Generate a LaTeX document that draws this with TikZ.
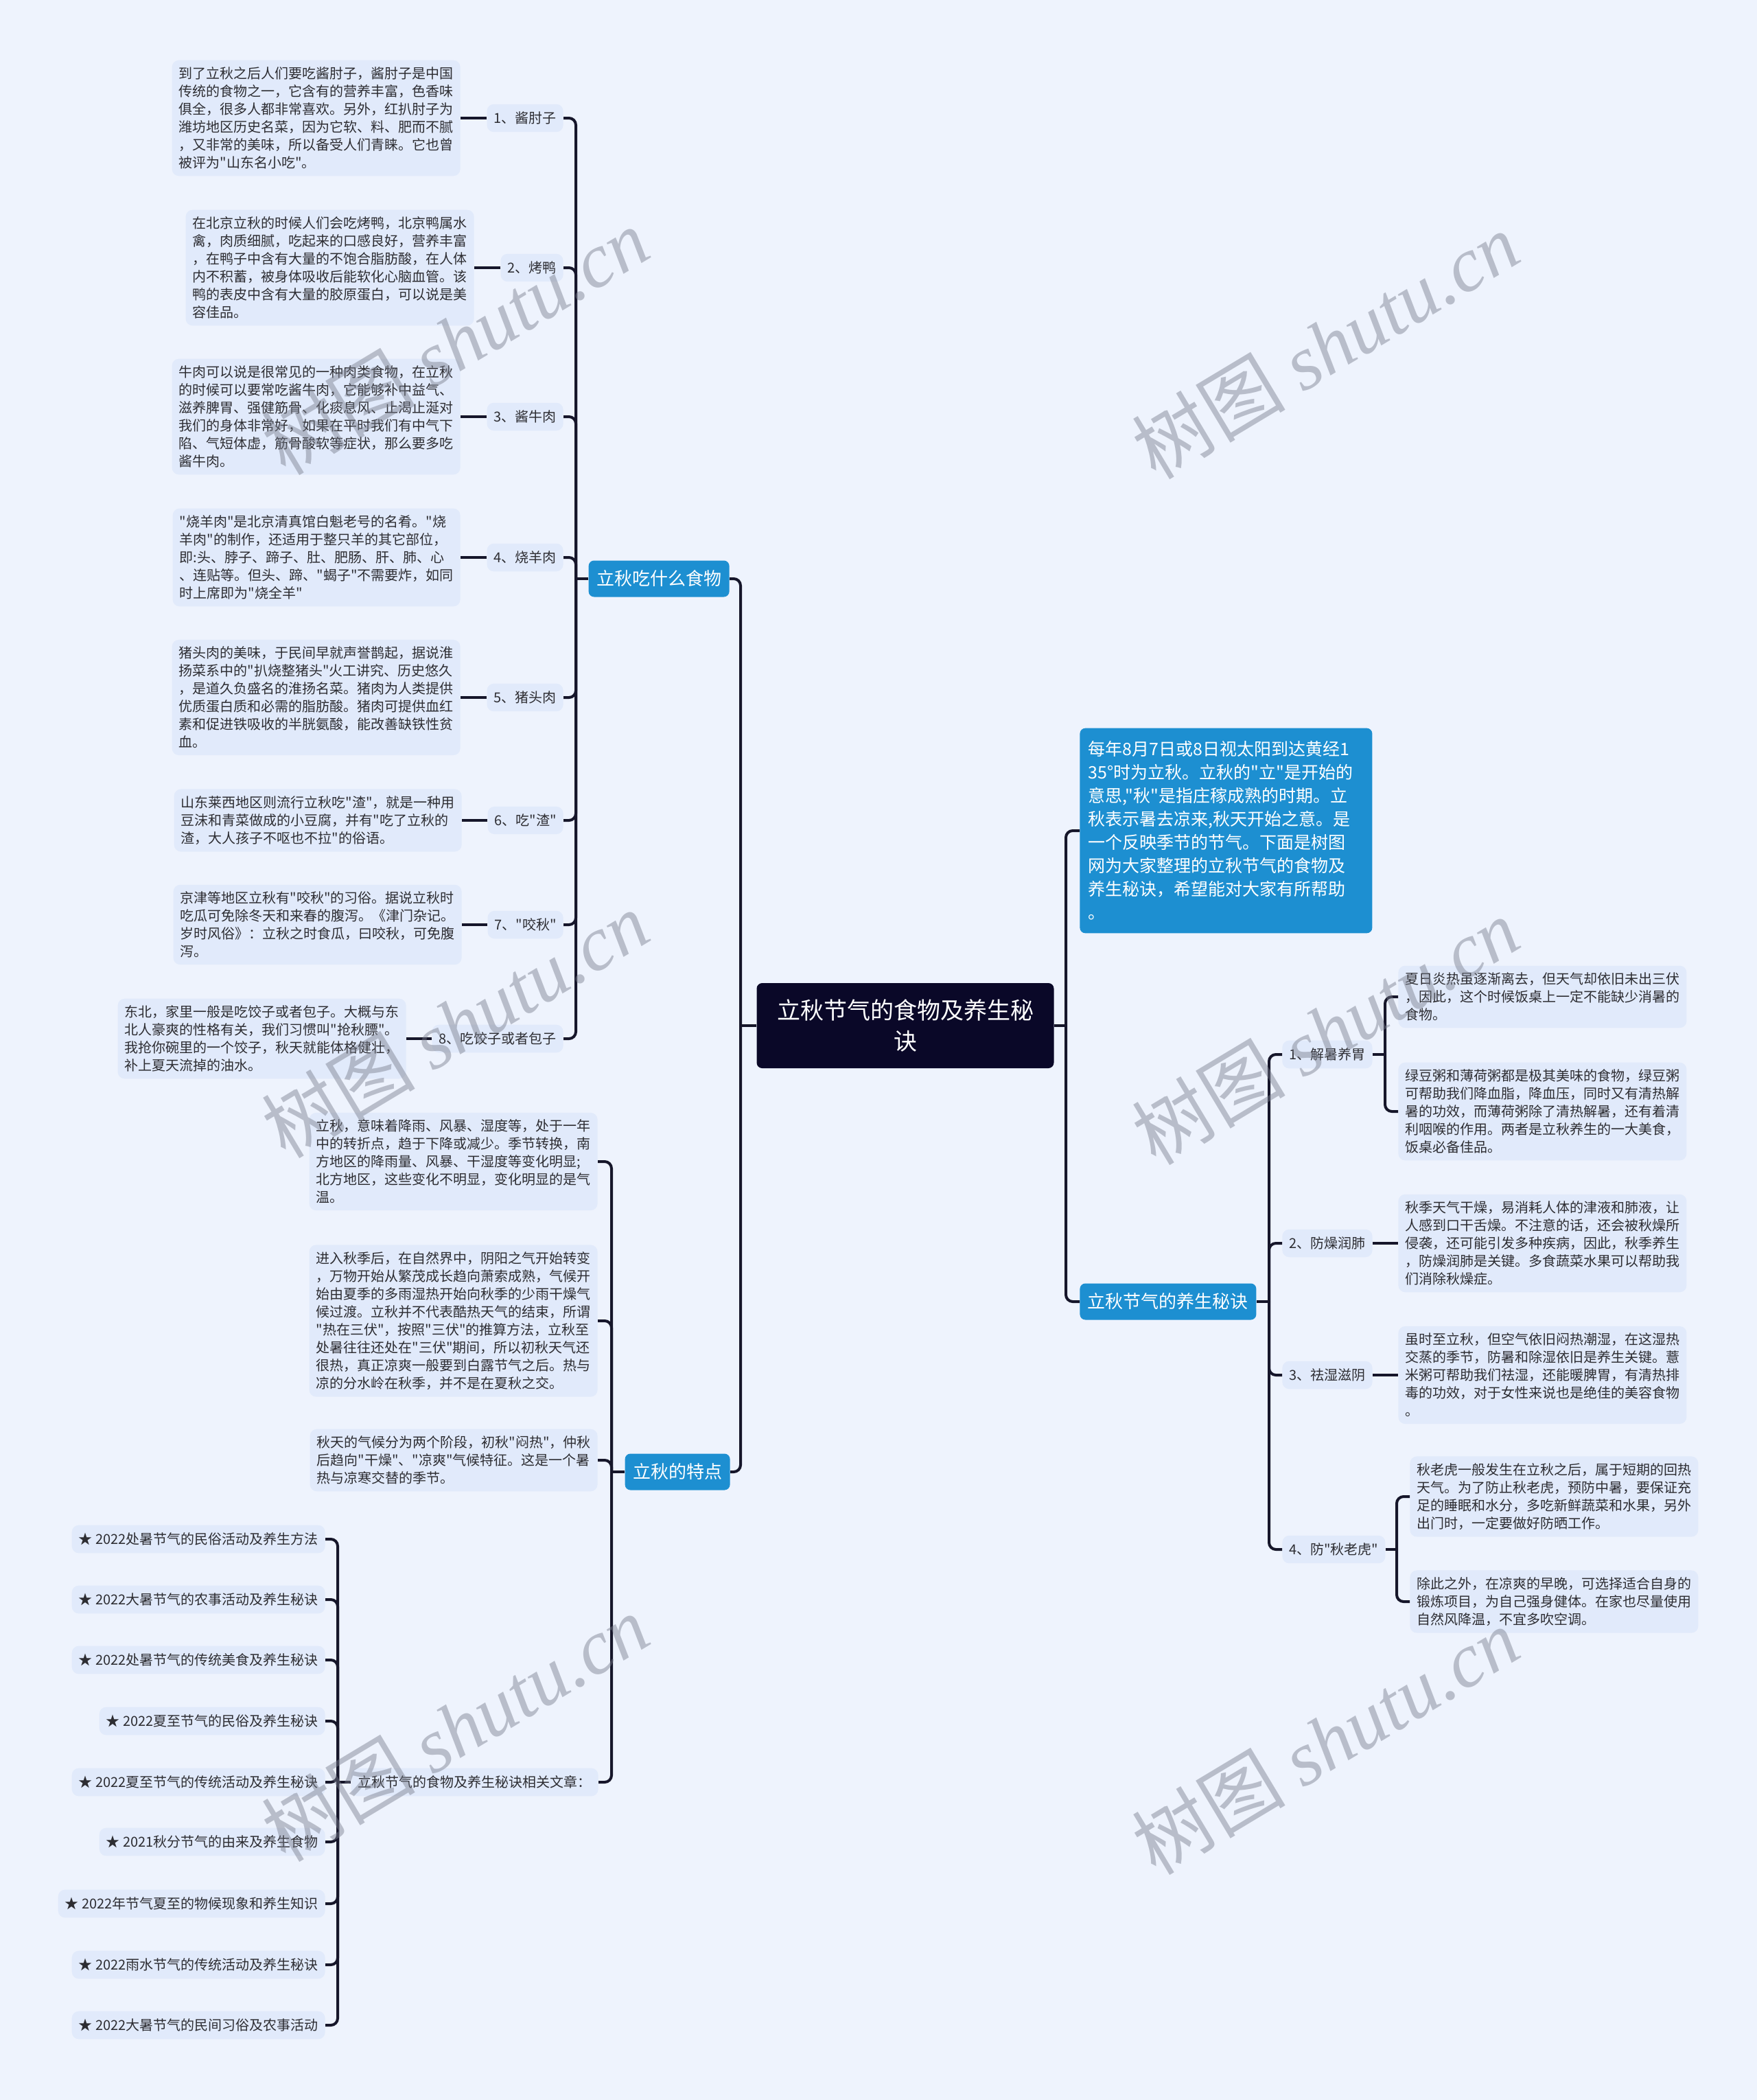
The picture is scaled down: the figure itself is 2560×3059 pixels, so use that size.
\documentclass[tikz,border=0pt]{standalone}
\usepackage{fontspec}
\newfontfamily\cjk{Noto Sans CJK SC}
\newfontfamily\wmfont{Liberation Serif}
\definecolor{bgc}{RGB}{238,243,253}
\definecolor{boxc}{RGB}{225,234,251}
\definecolor{bluec}{RGB}{29,143,209}
\definecolor{rootc}{RGB}{10,8,40}
\definecolor{linec}{RGB}{22,22,42}
\definecolor{txtc}{RGB}{45,45,50}
\definecolor{wmc}{RGB}{120,125,140}

\tikzset{
  conn/.style={draw=linec, line width=2pt, rounded corners=5pt},
  mmdetail/.style={fill=boxc, rounded corners=5pt, inner xsep=5pt, inner ysep=5pt,
    align=left, text=txtc, font=\cjk\fontsize{10}{13}\selectfont},
  mmlabel/.style={fill=boxc, rounded corners=5pt, inner xsep=5pt, inner ysep=5.5pt,
    text=txtc, font=\cjk\fontsize{10}{13}\selectfont},
  mmitem/.style={mmlabel, anchor=east},
  mmtopic/.style={fill=bluec, rounded corners=4pt, text=white, inner xsep=5.75pt,
    minimum height=26.5pt, font=\cjk\fontsize{13}{16}\selectfont},
  mmroot/.style={fill=rootc, rounded corners=4pt, text=white, align=center,
    minimum width=216.5pt, minimum height=62pt, font=\cjk\fontsize{17}{22.5}\selectfont},
  mmintro/.style={fill=bluec, rounded corners=4pt, text=white, align=left, text width=201pt,
    inner xsep=6pt, inner ysep=9.5pt, font=\cjk\fontsize{12.5}{17}\selectfont},
  mmwater/.style={text=wmc, opacity=0.45, rotate=31, font=\cjk\fontsize{56}{60}\selectfont}
}

\begin{document}
\begin{tikzpicture}[x=0.5pt, y=-0.5pt]
  % Canvas
  \fill[bgc] (0,0) rectangle (2560,3059);
  \useasboundingbox (0,0) rectangle (2560,3059);

  % Root and main topics
  \node[mmroot] (root) at (1319,1494) {立秋节气的食物及养生秘\\诀};
  \node[mmtopic, anchor=east] (food) at (1063,843) {立秋吃什么食物};
  \node[mmtopic, anchor=east] (feat) at (1064,2144) {立秋的特点};
  \node[mmintro, anchor=west] (intro) at (1573,1210) {每年8月7日或8日视太阳到达黄经1\\
    35°时为立秋。立秋的"立"是开始的\\意思,"秋"是指庄稼成熟的时期。立\\
    秋表示暑去凉来,秋天开始之意。是\\一个反映季节的节气。下面是树图\\
    网为大家整理的立秋节气的食物及\\养生秘诀，希望能对大家有所帮助\\。};
  \node[mmtopic, anchor=west] (tips) at (1573,1896) {立秋节气的养生秘诀};

  % Food labels
  \node[mmlabel, anchor=east] (l1) at (821,172) {1、酱肘子};
  \node[mmlabel, anchor=east] (l2) at (821,390) {2、烤鸭};
  \node[mmlabel, anchor=east] (l3) at (821,607) {3、酱牛肉};
  \node[mmlabel, anchor=east] (l4) at (821,812) {4、烧羊肉};
  \node[mmlabel, anchor=east] (l5) at (821,1016) {5、猪头肉};
  \node[mmlabel, anchor=east] (l6) at (821,1195) {6、吃"渣"};
  \node[mmlabel, anchor=east] (l7) at (821,1347) {7、"咬秋"};
  \node[mmlabel, anchor=east] (l8) at (821,1513) {8、吃饺子或者包子};

  % Food details
  \node[mmdetail, anchor=east] (d1) at (671,172) {到了立秋之后人们要吃酱肘子，酱肘子是中国\\
    传统的食物之一，它含有的营养丰富，色香味\\俱全，很多人都非常喜欢。另外，红扒肘子为\\
    潍坊地区历史名菜，因为它软、料、肥而不腻\\，又非常的美味，所以备受人们青睐。它也曾\\
    被评为"山东名小吃"。};
  \node[mmdetail, anchor=east] (d2) at (691,390) {在北京立秋的时候人们会吃烤鸭，北京鸭属水\\
    禽，肉质细腻，吃起来的口感良好，营养丰富\\，在鸭子中含有大量的不饱合脂肪酸，在人体\\
    内不积蓄，被身体吸收后能软化心脑血管。该\\鸭的表皮中含有大量的胶原蛋白，可以说是美\\
    容佳品。};
  \node[mmdetail, anchor=east] (d3) at (671,607) {牛肉可以说是很常见的一种肉类食物，在立秋\\
    的时候可以要常吃酱牛肉，它能够补中益气、\\滋养脾胃、强健筋骨、化痰息风、止渴止涎对\\
    我们的身体非常好，如果在平时我们有中气下\\陷、气短体虚，筋骨酸软等症状，那么要多吃\\
    酱牛肉。};
  \node[mmdetail, anchor=east] (d4) at (671,812) {"烧羊肉"是北京清真馆白魁老号的名肴。"烧\\
    羊肉"的制作，还适用于整只羊的其它部位，\\即:头、脖子、蹄子、肚、肥肠、肝、肺、心\\
    、连贴等。但头、蹄、"蝎子"不需要炸，如同\\时上席即为"烧全羊"};
  \node[mmdetail, anchor=east] (d5) at (671,1016) {猪头肉的美味，于民间早就声誉鹊起，据说淮\\
    扬菜系中的"扒烧整猪头"火工讲究、历史悠久\\，是道久负盛名的淮扬名菜。猪肉为人类提供\\
    优质蛋白质和必需的脂肪酸。猪肉可提供血红\\素和促进铁吸收的半胱氨酸，能改善缺铁性贫\\
    血。};
  \node[mmdetail, anchor=east] (d6) at (673,1195) {山东莱西地区则流行立秋吃"渣"，就是一种用\\
    豆沫和青菜做成的小豆腐，并有"吃了立秋的\\渣，大人孩子不呕也不拉"的俗语。};
  \node[mmdetail, anchor=east] (d7) at (673,1347) {京津等地区立秋有"咬秋"的习俗。据说立秋时\\
    吃瓜可免除冬天和来春的腹泻。《津门杂记。\\岁时风俗》：立秋之时食瓜，曰咬秋，可免腹\\
    泻。};
  \node[mmdetail, anchor=east] (d8) at (592,1513) {东北，家里一般是吃饺子或者包子。大概与东\\
    北人豪爽的性格有关，我们习惯叫"抢秋膘"。\\我抢你碗里的一个饺子，秋天就能体格健壮，\\
    补上夏天流掉的油水。};

  % Features
  \node[mmdetail, anchor=east] (fa) at (871,1692) {立秋，意味着降雨、风暴、湿度等，处于一年\\
    中的转折点，趋于下降或减少。季节转换，南\\方地区的降雨量、风暴、干湿度等变化明显;\\
    北方地区，这些变化不明显，变化明显的是气\\温。};
  \node[mmdetail, anchor=east] (fb) at (871,1924) {进入秋季后，在自然界中，阴阳之气开始转变\\
    ，万物开始从繁茂成长趋向萧索成熟，气候开\\始由夏季的多雨湿热开始向秋季的少雨干燥气\\
    候过渡。立秋并不代表酷热天气的结束，所谓\\"热在三伏"，按照"三伏"的推算方法，立秋至\\
    处暑往往还处在"三伏"期间，所以初秋天气还\\很热，真正凉爽一般要到白露节气之后。热与\\
    凉的分水岭在秋季，并不是在夏秋之交。};
  \node[mmdetail, anchor=east] (fc) at (871,2127) {秋天的气候分为两个阶段，初秋"闷热"，仲秋\\
    后趋向"干燥"、"凉爽"气候特征。这是一个暑\\热与凉寒交替的季节。};
  \node[mmlabel, anchor=east] (rel) at (872,2596) {立秋节气的食物及养生秘诀相关文章：};

  % Related articles
  \node[mmitem] (r1) at (474,2242) {★ 2022处暑节气的民俗活动及养生方法};
  \node[mmitem] (r2) at (474,2330) {★ 2022大暑节气的农事活动及养生秘诀};
  \node[mmitem] (r3) at (474,2418) {★ 2022处暑节气的传统美食及养生秘诀};
  \node[mmitem] (r4) at (474,2507) {★ 2022夏至节气的民俗及养生秘诀};
  \node[mmitem] (r5) at (474,2596) {★ 2022夏至节气的传统活动及养生秘诀};
  \node[mmitem] (r6) at (474,2683) {★ 2021秋分节气的由来及养生食物};
  \node[mmitem] (r7) at (474,2773) {★ 2022年节气夏至的物候现象和养生知识};
  \node[mmitem] (r8) at (474,2862) {★ 2022雨水节气的传统活动及养生秘诀};
  \node[mmitem] (r9) at (474,2950) {★ 2022大暑节气的民间习俗及农事活动};

  % Tips
  \node[mmlabel, anchor=west] (t1) at (1868,1536) {1、解暑养胃};
  \node[mmlabel, anchor=west] (t2) at (1868,1811) {2、防燥润肺};
  \node[mmlabel, anchor=west] (t3) at (1868,2003) {3、祛湿滋阴};
  \node[mmlabel, anchor=west] (t4) at (1868,2257) {4、防"秋老虎"};
  \node[mmdetail, anchor=west] (t1a) at (2037,1452) {夏日炎热虽逐渐离去，但天气却依旧未出三伏\\
    ，因此，这个时候饭桌上一定不能缺少消暑的\\食物。};
  \node[mmdetail, anchor=west] (t1b) at (2037,1619) {绿豆粥和薄荷粥都是极其美味的食物，绿豆粥\\
    可帮助我们降血脂，降血压，同时又有清热解\\暑的功效，而薄荷粥除了清热解暑，还有着清\\
    利咽喉的作用。两者是立秋养生的一大美食，\\饭桌必备佳品。};
  \node[mmdetail, anchor=west] (t2a) at (2037,1811) {秋季天气干燥，易消耗人体的津液和肺液，让\\
    人感到口干舌燥。不注意的话，还会被秋燥所\\侵袭，还可能引发多种疾病，因此，秋季养生\\
    ，防燥润肺是关键。多食蔬菜水果可以帮助我\\们消除秋燥症。};
  \node[mmdetail, anchor=west] (t3a) at (2037,2003) {虽时至立秋，但空气依旧闷热潮湿，在这湿热\\
    交蒸的季节，防暑和除湿依旧是养生关键。薏\\米粥可帮助我们祛湿，还能暖脾胃，有清热排\\
    毒的功效，对于女性来说也是绝佳的美容食物\\。};
  \node[mmdetail, anchor=west] (t4a) at (2054,2180) {秋老虎一般发生在立秋之后，属于短期的回热\\
    天气。为了防止秋老虎，预防中暑，要保证充\\足的睡眠和水分，多吃新鲜蔬菜和水果，另外\\
    出门时，一定要做好防晒工作。};
  \node[mmdetail, anchor=west] (t4b) at (2054,2333) {除此之外，在凉爽的早晚，可选择适合自身的\\
    锻炼项目，为自己强身健体。在家也尽量使用\\自然风降温，不宜多吹空调。};

  % Junctions
  \coordinate (jl) at (1079,1494);
  \coordinate (jr) at (1553,1494);
  \coordinate (jfood) at (839,843);
  \coordinate (jfeat) at (891,2144);
  \coordinate (jrel) at (492,2596);
  \coordinate (jtips) at (1849,1896);
  \coordinate (jt1) at (2018,1536);
  \coordinate (jt4) at (2035,2257);

  % Connectors
  \draw[conn] (root.west) -- (jl);
  \draw[conn] (root.east) -- (jr);
  \foreach \n in {food,feat} \draw[conn] (jl) |- (\n.east);
  \foreach \n in {intro,tips} \draw[conn] (jr) |- (\n.west);
  \draw[conn] (food.west) -- (jfood);
  \foreach \n in {l1,l2,l3,l4,l5,l6,l7,l8} \draw[conn] (jfood) |- (\n.east);
  \foreach \i in {1,...,8} \draw[conn] (l\i.west) -- (d\i.east);
  \draw[conn] (feat.west) -- (jfeat);
  \foreach \n in {fa,fb,fc,rel} \draw[conn] (jfeat) |- (\n.east);
  \draw[conn] (rel.west) -- (jrel);
  \foreach \i in {1,...,9} \draw[conn] (jrel) |- (r\i.east);
  \draw[conn] (tips.east) -- (jtips);
  \foreach \n in {t1,t2,t3,t4} \draw[conn] (jtips) |- (\n.west);
  \draw[conn] (t1.east) -- (jt1);
  \foreach \n in {t1a,t1b} \draw[conn] (jt1) |- (\n.west);
  \draw[conn] (t2.east) -- (t2a.west);
  \draw[conn] (t3.east) -- (t3a.west);
  \draw[conn] (t4.east) -- (jt4);
  \foreach \n in {t4a,t4b} \draw[conn] (jt4) |- (\n.west);

  % Watermarks
  \foreach \wx/\wy in {663/497, 1931/503, 663/1492, 1931/1502, 663/2517, 1931/2536}
    \node[mmwater] at (\wx,\wy) {树图 {\wmfont\itshape shutu.cn}};
\end{tikzpicture}
\end{document}
